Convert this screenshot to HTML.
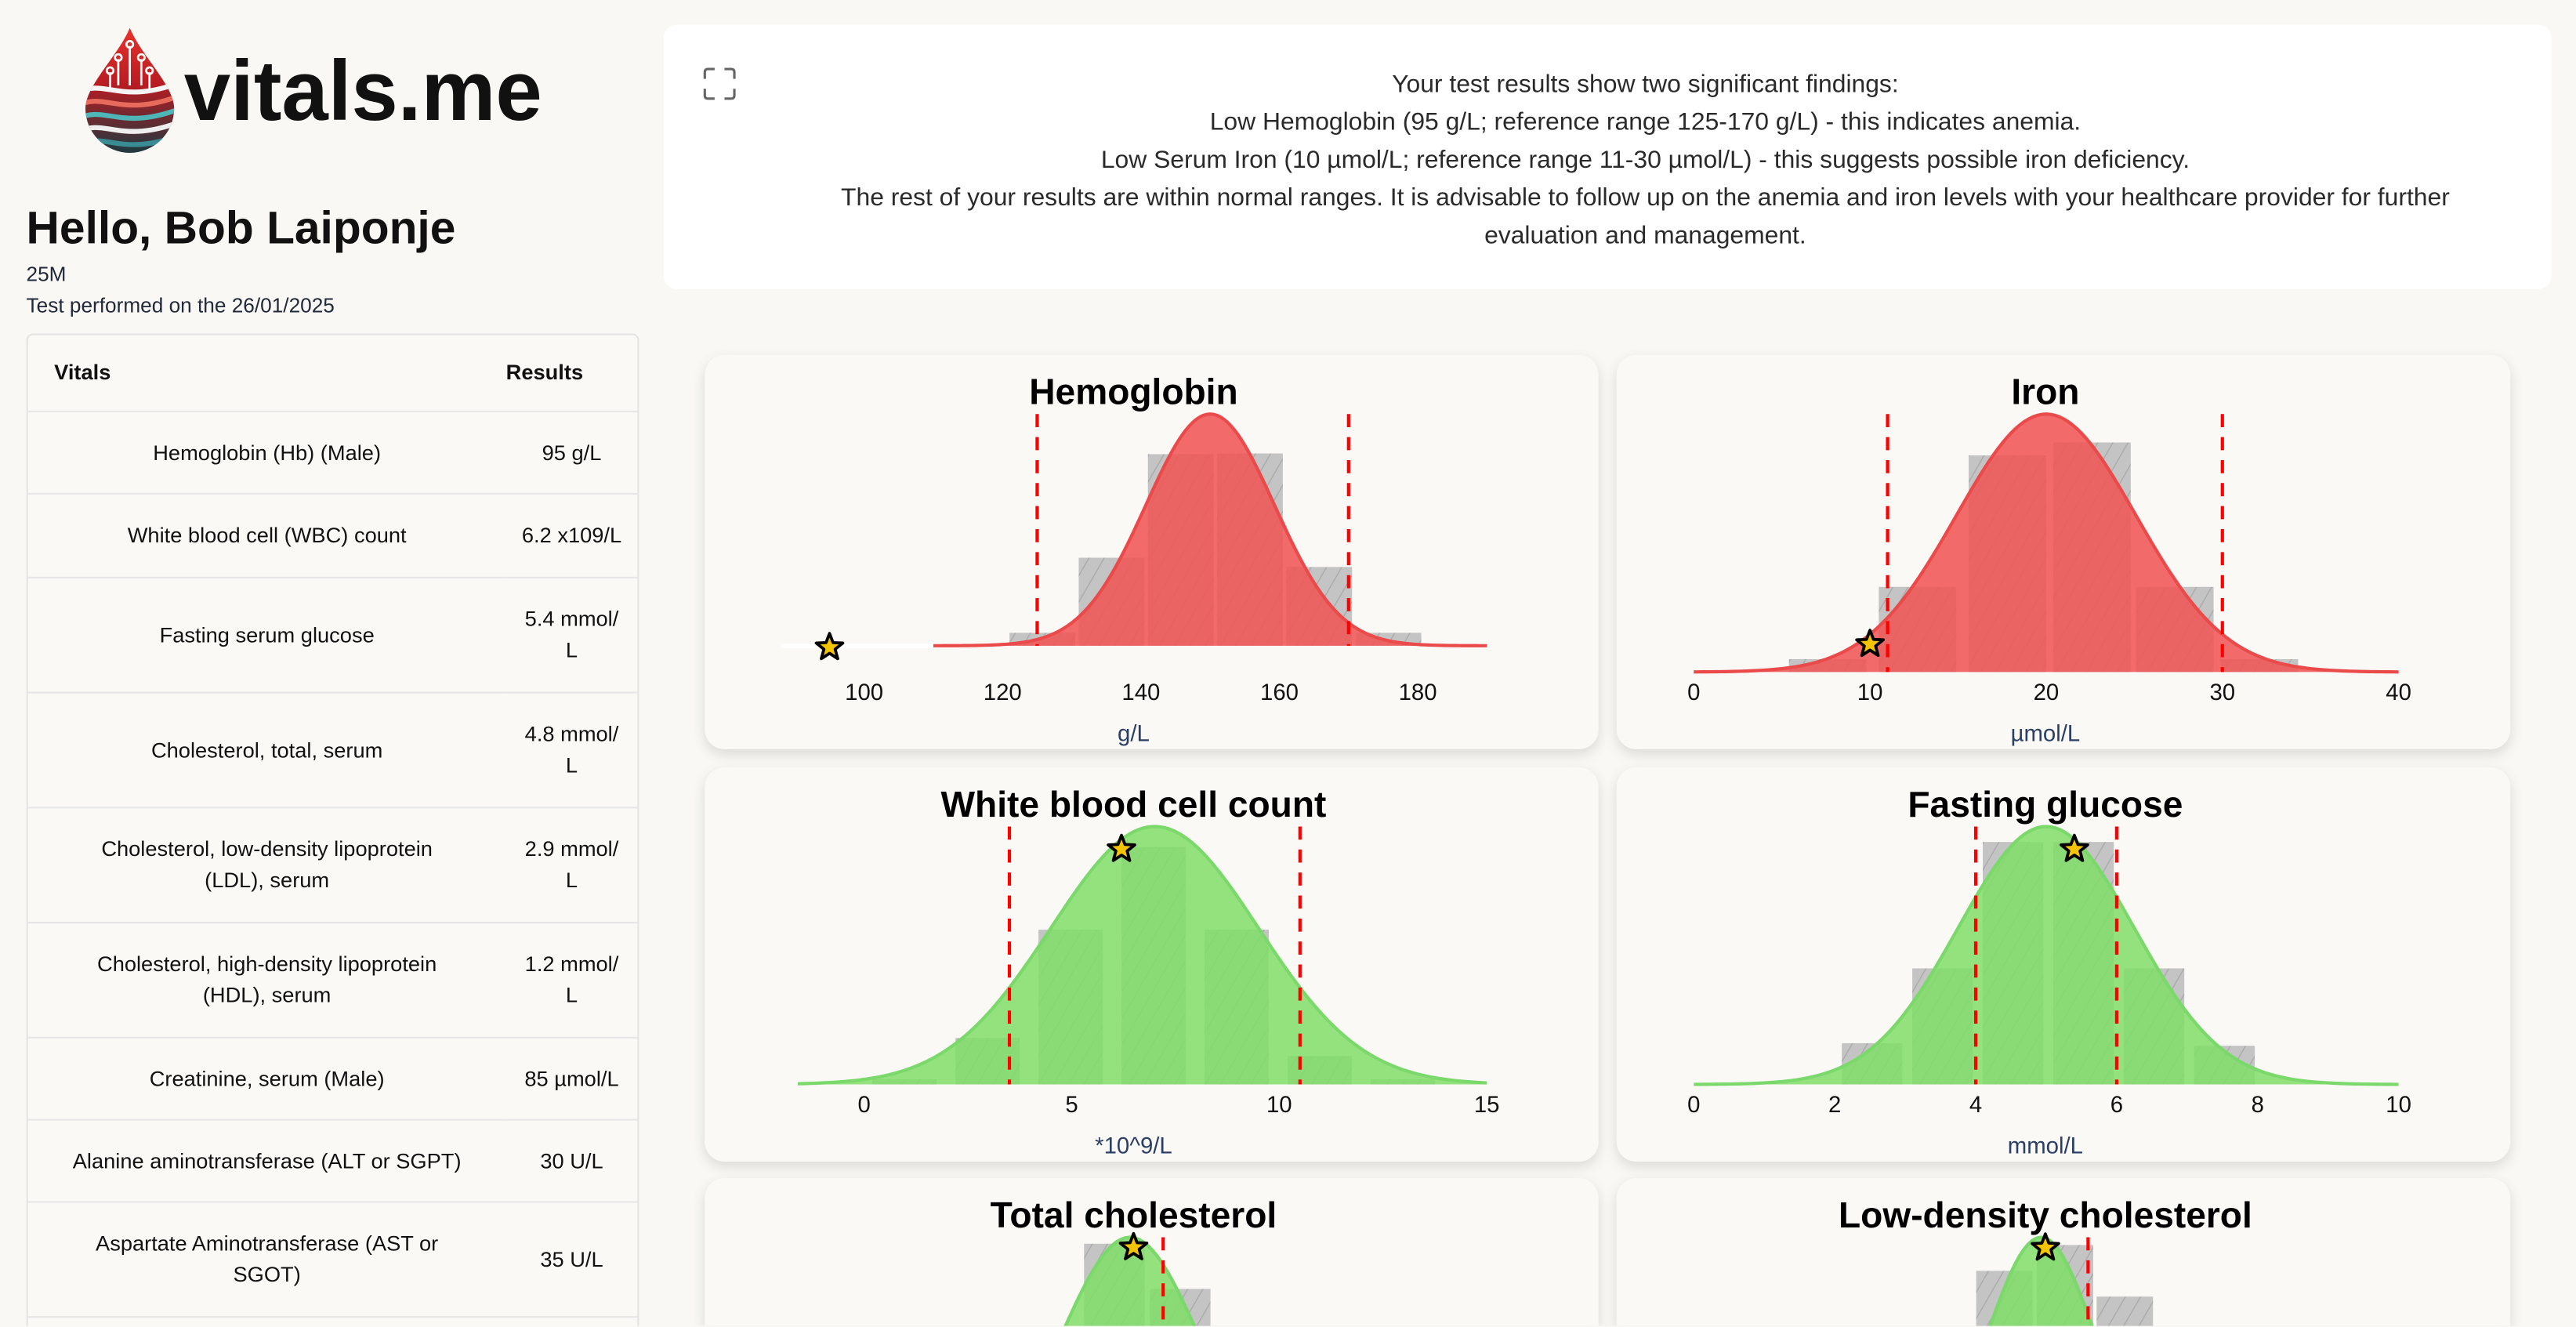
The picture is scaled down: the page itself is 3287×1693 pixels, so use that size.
<!DOCTYPE html>
<html><head><meta charset="utf-8">
<style>
html,body{margin:0;padding:0;background:#f9f8f4;overflow:hidden;width:3287px;height:1693px}
#clip{position:absolute;left:0;top:0;width:3287px;height:1693px;overflow:hidden}
#root{position:absolute;left:0;top:0;width:1568px;height:807px;overflow:hidden;transform:scale(2.09630);transform-origin:0 0;font-family:"Liberation Sans",sans-serif;color:#111}
.abs{position:absolute}
table{border-collapse:collapse;width:100%;font-size:13px}
td,th{border-bottom:1px solid #e6e6e6;padding:0}
.card{position:absolute;width:544px;height:240px;background:#faf9f6;border-radius:12px;box-shadow:0 3px 8px rgba(0,0,0,0.12);overflow:hidden}
.card.cut{height:90px;border-radius:12px 12px 0 0}
</style></head><body>
<div id="clip">
<div id="root">
  <svg class="abs" style="left:44px;top:14px" width="70" height="80" viewBox="0 0 70 80">
    <defs>
      <linearGradient id="dg" x1="0" y1="0" x2="0" y2="1"><stop offset="0" stop-color="#e8322a"/><stop offset="0.45" stop-color="#b81c22"/><stop offset="1" stop-color="#1d3a40"/></linearGradient>
      <clipPath id="dc"><path d="M35 3 C28 20 8 38 8 52 A27 27 0 0 0 62 52 C62 38 42 20 35 3Z"/></clipPath>
    </defs>
    <path d="M35 3 C28 20 8 38 8 52 A27 27 0 0 0 62 52 C62 38 42 20 35 3Z" fill="url(#dg)"/>
    <g clip-path="url(#dc)" fill="none" stroke-width="3">
      <path d="M4 42 C20 34 30 50 66 36" stroke="#f4f4f4"/>
      <path d="M4 50 C20 42 30 58 66 44" stroke="#e86a5a"/>
      <path d="M4 58 C20 50 30 66 66 52" stroke="#4fb6b8"/>
      <path d="M4 66 C20 58 30 74 66 60" stroke="#eeeeee"/>
      <path d="M4 74 C20 66 30 82 66 68" stroke="#3a8c94"/>
    </g>
    <g stroke="#fff" stroke-width="1.3" fill="none"><path d="M35 14 V38 M28 22 V38 M42 22 V38 M23 30 V40 M47 30 V40"/><circle cx="35" cy="13" r="2"/><circle cx="28" cy="21" r="2"/><circle cx="42" cy="21" r="2"/><circle cx="23" cy="29" r="2"/><circle cx="47" cy="29" r="2"/></g>
  </svg>
  <svg class="abs" style="left:112px;top:22px" width="225" height="60"><text x="0" y="51" font-family="Liberation Sans, sans-serif" font-weight="bold" font-size="52" textLength="218" lengthAdjust="spacingAndGlyphs" fill="#111">vitals.me</text></svg>

  <div class="abs" style="left:16px;top:123px;font-size:28px;font-weight:bold">Hello, Bob Laiponje</div>
  <div class="abs" style="left:16px;top:160px;font-size:12.5px;color:#222a3a">25M</div>
  <div class="abs" style="left:16px;top:179px;font-size:12.5px;color:#222a3a">Test performed on the 26/01/2025</div>

  <div class="abs" style="left:16px;top:203px;width:371px;height:604px;overflow:hidden;border:1px solid #e3e3e3;border-bottom:none;border-radius:4px 4px 0 0;background:#faf9f6">
    <table>
      <tr style="height:46px"><th style="text-align:left;padding-left:16px">Vitals</th><th style="width:80px;text-align:left">Results</th></tr>
      <tr style="height:50px"><td align="center">Hemoglobin (Hb) (Male)</td><td align="center">95 g/L</td></tr>
      <tr style="height:51px"><td align="center">White blood cell (WBC) count</td><td align="center">6.2 x109/L</td></tr>
      <tr style="height:70px"><td align="center">Fasting serum glucose</td><td align="center" style="line-height:19px">5.4 mmol/<br>L</td></tr>
      <tr style="height:70px"><td align="center">Cholesterol, total, serum</td><td align="center" style="line-height:19px">4.8 mmol/<br>L</td></tr>
      <tr style="height:70px"><td align="center" style="line-height:19px">Cholesterol, low-density lipoprotein<br>(LDL), serum</td><td align="center" style="line-height:19px">2.9 mmol/<br>L</td></tr>
      <tr style="height:70px"><td align="center" style="line-height:19px">Cholesterol, high-density lipoprotein<br>(HDL), serum</td><td align="center" style="line-height:19px">1.2 mmol/<br>L</td></tr>
      <tr style="height:50px"><td align="center">Creatinine, serum (Male)</td><td align="center">85 µmol/L</td></tr>
      <tr style="height:50px"><td align="center">Alanine aminotransferase (ALT or SGPT)</td><td align="center">30 U/L</td></tr>
      <tr style="height:70px"><td align="center" style="line-height:19px">Aspartate Aminotransferase (AST or<br>SGOT)</td><td align="center">35 U/L</td></tr>
    </table>
  </div>

  <div class="abs" style="left:404px;top:15px;width:1149px;height:161px;background:#fff;border-radius:8px">
    <svg class="abs" style="left:24px;top:26px" width="20" height="20"><path d="M1 7 V3 Q1 1 3 1 H7 M13 1 H17 Q19 1 19 3 V7 M19 13 V17 Q19 19 17 19 H13 M7 19 H3 Q1 19 1 17 V13" fill="none" stroke="#666" stroke-width="1.5"/></svg>
    <div class="abs" style="left:95px;width:1005px;top:25px;text-align:center;font-size:15.2px;line-height:23px;color:#2a2a2a">Your test results show two significant findings:<br>Low Hemoglobin (95 g/L; reference range 125-170 g/L) - this indicates anemia.<br>Low Serum Iron (10 µmol/L; reference range 11-30 µmol/L) - this suggests possible iron deficiency.<br>The rest of your results are within normal ranges. It is advisable to follow up on the anemia and iron levels with your healthcare provider for further evaluation and management.</div>
  </div>

  <div class="card" style="left:429px;top:216px" id="c-hb"></div>
  <div class="card" style="left:984px;top:216px" id="c-fe"></div>
  <div class="card" style="left:429px;top:467px" id="c-wbc"></div>
  <div class="card" style="left:984px;top:467px" id="c-glu"></div>
  <div class="card cut" style="left:429px;top:717px" id="c-tc"></div>
  <div class="card cut" style="left:984px;top:717px" id="c-ldl"></div>
</div>
</div>
<script>
// Hemoglobin
const hbTicks=[100,120,140,160,180];
const hbBinStarts=[121,131,141,151,161,171];
const hbBinHeights=[0.056,0.38,0.827,0.83,0.34,0.056];
const hbStats=[150,9.3];
const hbRef=[125,170];
const hbValue=[95];
// Iron
const feTicks=[0,10,20,30,40];
const feBinStarts=[5.4,10.5,15.6,20.4,25.1,29.9];
const feBinHeights=[0.05,0.33,0.84,0.89,0.33,0.05];
const feStats=[20,5.1];
const feRef=[11,30];
const feValue=[10];
// WBC
const wbcTicks=[0,5,10,15];
const wbcBinStarts=[0.2,2.2,4.2,6.2,8.2,10.2,12.2];
const wbcBinHeights=[0.02,0.18,0.6,0.92,0.6,0.11,0.02];
const wbcStats=[7,2.5];
const wbcRef=[3.5,10.5];
const wbcValue=[6.2];
// Glucose
const gluTicks=[0,2,4,6,8,10];
const gluBinStarts=[2.1,3.1,4.1,5.1,6.1,7.1];
const gluBinHeights=[0.16,0.45,0.94,0.94,0.45,0.15];
const gluStats=[5,1.25];
const gluRef=[4,6];
const gluValue=[5.4];
// Total cholesterol
const tcTicks=[2,4,6,8];
const tcBinStarts=[3.28,4.13,5.02,5.87];
const tcBinHeights=[0.55,0.975,0.8,0.4];
const tcStats=[4.75,0.95];
const tcRef=[5.2];
const tcValue=[4.8];
// LDL
const ldlTicks=[1,2,3,4,5];
const ldlBinStarts=[1.4,2.09,2.8,3.5];
const ldlBinHeights=[0.5,0.87,0.97,0.77];
const ldlStats=[2.85,0.65];
const ldlRef=[3.4];
const ldlValue=[2.9];

const NS='http://www.w3.org/2000/svg';
function mk(tag,attrs,parent){const e=document.createElementNS(NS,tag);for(const k in attrs)e.setAttribute(k,attrs[k]);parent.appendChild(e);return e;}

function chart(o){
  const card=document.getElementById(o.id);
  const ch=card.clientHeight;
  const svg=mk('svg',{width:544,height:ch},card);
  
  
  const sx=v=>o.px0+(v-o.d0)*(o.px1-o.px0)/(o.d1-o.d0);
  const base=o.base, peak=36, H=base-peak;
  const defs=mk('defs',{},svg);
  const pat=mk('pattern',{id:'h'+o.key,width:8,height:8,patternUnits:'userSpaceOnUse',patternTransform:'rotate(30)'},defs);
  mk('rect',{width:8,height:8,fill:'#c4c4c4'},pat);
  mk('line',{x1:0,y1:0,x2:0,y2:8,stroke:'#a9a9a9','stroke-width':1.3},pat);
  const t=mk('text',{x:261,y:30,'text-anchor':'middle','font-size':22,'font-weight':'bold',fill:'#000'},svg);
  t.textContent=o.title;
  
  
  if(o.white){const w=mk('line',{x1:sx(o.white[0]),x2:sx(o.white[1]),y1:base,y2:base,stroke:'#fff','stroke-width':2.5},svg);
    
    }
  o.bins.forEach((b,i)=>{
    const x0=sx(b),x1=sx(b+o.bw),h=o.bh[i]*H;
    const r=mk('rect',{x:x0,y:base-h,width:x1-x0,height:h,fill:'url(#h'+o.key+')'},svg);
    
    
  });
  const [mu,sd]=o.stats;
  let d='';const lo=o.c0,hi=o.c1;
  for(let i=0;i<=160;i++){const v=lo+(hi-lo)*i/160;const y=base-H*Math.exp(-((v-mu)**2)/(2*sd*sd));d+=(i?'L':'M')+sx(v).toFixed(2)+' '+y.toFixed(2);}
  const area=mk('path',{d:d+'L'+sx(hi)+' '+base+'L'+sx(lo)+' '+base+'Z',fill:o.fill},svg);
  
  
  const ln=mk('path',{d:d,fill:'none',stroke:o.stroke,'stroke-width':2},svg);
  
  
  o.ref.forEach(r=>{
    const l=mk('line',{x1:sx(r),x2:sx(r),y1:peak,y2:Math.min(base,ch),stroke:'#f00','stroke-width':2,'stroke-dasharray':'8 6'},svg);
    
    
  });
  if(ch>=210){
    o.ticks.forEach(v=>{
      const tt=mk('text',{x:sx(v),y:210,'text-anchor':'middle','font-size':14,fill:'#111'},svg);
      tt.textContent=v;
      
      
    });
    const u=mk('text',{x:261,y:235,'text-anchor':'middle','font-size':14,fill:'#2b3f66'},svg);
    u.textContent=o.unit;
    
    
  }
  const v=o.value[0];const vy=base-H*Math.exp(-((v-mu)**2)/(2*sd*sd));
  const cy=Math.min(base+1,vy+6), cx=sx(v), R=8.5, r2=3.6;
  let sp='';for(let i=0;i<10;i++){const a=-Math.PI/2+i*Math.PI/5,rr=i%2?r2:R;sp+=(cx+rr*Math.cos(a)).toFixed(2)+','+(cy+rr*Math.sin(a)).toFixed(2)+' ';}
  const st=mk('polygon',{points:sp,fill:'#f5c400',stroke:'#000','stroke-width':1.8,'stroke-linejoin':'round'},svg);
  
  
}
chart({id:'c-hb',key:'hemoglobin',title:'Hemoglobin',unit:'g/L',d0:100,d1:180,px0:97,px1:434,base:177,c0:110,c1:190,white:[88,110],ticks:hbTicks,bins:hbBinStarts,bw:9.5,bh:hbBinHeights,stats:hbStats,ref:hbRef,value:hbValue,fill:'rgba(240,86,86,0.88)',stroke:'#ea4a4a'});
chart({id:'c-fe',key:'iron',title:'Iron',unit:'µmol/L',d0:0,d1:40,px0:47,px1:476,base:193,c0:0,c1:40,ticks:feTicks,bins:feBinStarts,bw:4.4,bh:feBinHeights,stats:feStats,ref:feRef,value:feValue,fill:'rgba(240,86,86,0.88)',stroke:'#ea4a4a'});
chart({id:'c-wbc',key:'wbc',title:'White blood cell count',unit:'*10^9/L',d0:0,d1:15,px0:97,px1:476,base:193,c0:-1.6,c1:15,ticks:wbcTicks,bins:wbcBinStarts,bw:1.55,bh:wbcBinHeights,stats:wbcStats,ref:wbcRef,value:wbcValue,fill:'rgba(128,222,104,0.85)',stroke:'#7bd86a'});
chart({id:'c-glu',key:'glucose',title:'Fasting glucose',unit:'mmol/L',d0:0,d1:10,px0:47,px1:476,base:193,c0:0,c1:10,ticks:gluTicks,bins:gluBinStarts,bw:0.86,bh:gluBinHeights,stats:gluStats,ref:gluRef,value:gluValue,fill:'rgba(128,222,104,0.85)',stroke:'#7bd86a'});
chart({id:'c-tc',key:'total-cholesterol',title:'Total cholesterol',unit:'mmol/L',d0:4.8,d1:5.8,px0:261,px1:306,base:193,c0:0,c1:10,ticks:tcTicks,bins:tcBinStarts,bw:0.82,bh:tcBinHeights,stats:tcStats,ref:tcRef,value:tcValue,fill:'rgba(128,222,104,0.85)',stroke:'#7bd86a'});
chart({id:'c-ldl',key:'ldl',title:'Low-density cholesterol',unit:'mmol/L',d0:2.9,d1:3.9,px0:261,px1:313,base:193,c0:-1,c1:7,ticks:ldlTicks,bins:ldlBinStarts,bw:0.66,bh:ldlBinHeights,stats:ldlStats,ref:ldlRef,value:ldlValue,fill:'rgba(128,222,104,0.85)',stroke:'#7bd86a'});
</script>
</body></html>
